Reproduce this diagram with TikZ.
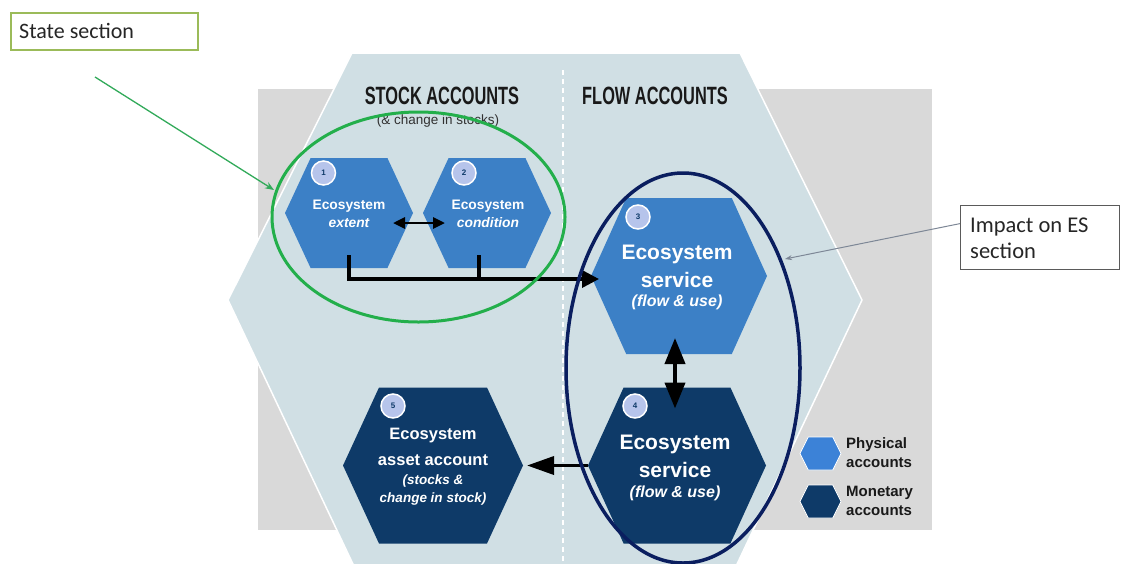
\documentclass[tikz,border=0pt]{standalone}
\usepackage{fontspec}
\setmainfont{Liberation Sans}
\newfontfamily\calib{Carlito}
\newfontfamily\condf[FakeStretch=0.655]{Liberation Sans}
\usetikzlibrary{arrows.meta,calc}
\definecolor{bggrey}{RGB}{217,217,217}
\definecolor{hexbg}{RGB}{208,223,228}
\definecolor{phys}{RGB}{60,128,198}
\definecolor{physl}{RGB}{60,130,215}
\definecolor{mone}{RGB}{14,58,104}
\definecolor{numc}{RGB}{182,196,235}
\definecolor{navyel}{RGB}{10,30,95}
\definecolor{greenel}{RGB}{35,175,75}
\definecolor{greenarr}{RGB}{50,170,90}
\definecolor{boxgreen}{RGB}{155,187,89}
\definecolor{boxgrey}{RGB}{90,90,90}
\definecolor{impactarr}{RGB}{125,135,150}
\definecolor{titlec}{RGB}{25,25,25}
\definecolor{subc}{RGB}{50,50,50}
\definecolor{legtext}{RGB}{25,25,25}
\newcommand\hexfill[3]{\fill[#3] (#1.west) -- ($(#1.north west)!#2!(#1.north east)$) -- ($(#1.north east)!#2!(#1.north west)$) -- (#1.east) -- ($(#1.south east)!#2!(#1.south west)$) -- ($(#1.south west)!#2!(#1.south east)$) -- cycle;}
\tikzset{
  hexbb/.style={inner sep=0pt, outer sep=0pt},
  num/.style={circle, fill=numc, draw=white, line width=1.5pt, inner sep=0pt, minimum size=24pt, text=mone, font=\bfseries\fontsize{8}{8}\selectfont},
  ht/.style={text=white, inner sep=0pt},
  conn/.style={line width=3.5pt, black},
}
\begin{document}
\begin{tikzpicture}[x=1pt,y=-1pt]
\useasboundingbox (0,0) rectangle (1121,563);
\fill[white] (0,0) rectangle (1121,563);
\fill[bggrey] (258,89) rectangle (932,530);
% big hexagon (runs past the lower edge)
\coordinate (bl) at (228,300);
\coordinate (br) at (862,300);
\fill[hexbg, draw=white, line width=1.5pt] (bl) -- (352,53) -- (740,53) -- (br) -- (729.5,580) -- (360.5,580) -- cycle;
\draw[white, line width=1.5pt, dash pattern=on 5pt off 4pt] (563,70) -- (563,563);
% titles
\node[font=\condf\bfseries\fontsize{25}{25}\selectfont, text=titlec, anchor=base, inner sep=0pt] (tstock) at (442,104.5) {STOCK ACCOUNTS};
\node[font=\condf\bfseries\fontsize{25}{25}\selectfont, text=titlec, anchor=base, inner sep=0pt] (tflow) at (655,104.5) {FLOW ACCOUNTS};
\node[font=\fontsize{13.5}{15}\selectfont, text=subc, inner sep=0pt] (tsub) at (438,121) {(\& change in stocks)};
% hexagons
\node[hexbb, minimum width=128pt, minimum height=110pt] (h1) at (349,213) {};
\node[hexbb, minimum width=128pt, minimum height=110pt] (h2) at (487,213) {};
\node[hexbb, minimum width=176pt, minimum height=156pt] (h3) at (679,276) {};
\node[hexbb, minimum width=178pt, minimum height=156pt] (h4) at (677,465.5) {};
\node[hexbb, minimum width=180pt, minimum height=156pt] (h5) at (433,465.5) {};
\hexfill{h1}{0.2}{phys}
\hexfill{h2}{0.2}{phys}
\hexfill{h3}{0.2}{phys}
\hexfill{h4}{0.2}{mone}
\hexfill{h5}{0.2}{mone}
% connectors
\coordinate (jn) at ([xshift=8pt,yshift=-3pt]h3.west);
\draw[conn, -{Triangle[length=17pt,width=17pt]}] ([yshift=13pt]h1.south) |- (jn);
\draw[conn] ([xshift=-8pt,yshift=13pt]h2.south) -- ([xshift=-8pt]h2.south |- jn);
\draw[line width=2.8pt, {Triangle[length=12pt,width=11pt]}-{Triangle[length=12pt,width=11pt]}] ([xshift=-20pt,yshift=-10pt]h1.east) -- ([xshift=22pt,yshift=-10pt]h2.west);
\draw[line width=4pt, {Triangle[length=26pt,width=20pt]}-{Triangle[length=26pt,width=20pt]}] ([xshift=-4pt,yshift=16pt]h3.south) -- ([xshift=-2pt,yshift=-21pt]h4.north);
\draw[line width=3.5pt, -{Triangle[length=27pt,width=18pt]}] (h4.west) -- ([xshift=4pt]h5.east);
% numbers
\node[num] (n1) at (323.5,173) {1};
\node[num] (n2) at (464,173) {2};
\node[num] (n3) at (638,217) {3};
\node[num] (n4) at (635,406) {4};
\node[num] (n5) at (393,406) {5};
% hex texts
\node[ht, font=\bfseries\fontsize{13.8}{16}\selectfont] (h1a) at (349,206) {Ecosystem};
\node[ht, font=\bfseries\itshape\fontsize{13.8}{16}\selectfont] (h1b) at (349,223) {extent};
\node[ht, font=\bfseries\fontsize{13.8}{16}\selectfont] (h2a) at (488,206) {Ecosystem};
\node[ht, font=\bfseries\itshape\fontsize{13.8}{16}\selectfont] (h2b) at (488,223) {condition};
\node[ht, font=\bfseries\fontsize{21}{24}\selectfont] (h3a) at (677,254) {Ecosystem};
\node[ht, font=\bfseries\fontsize{21}{24}\selectfont] (h3b) at (677,280) {service};
\node[ht, font=\bfseries\itshape\fontsize{16}{19}\selectfont] (h3c) at (677,302) {(flow \& use)};
\node[ht, font=\bfseries\fontsize{21}{24}\selectfont] (h4a) at (675,444) {Ecosystem};
\node[ht, font=\bfseries\fontsize{21}{24}\selectfont] (h4b) at (675,470) {service};
\node[ht, font=\bfseries\itshape\fontsize{16}{19}\selectfont] (h4c) at (675,493) {(flow \& use)};
\node[ht, font=\bfseries\fontsize{16.5}{19}\selectfont] (h5a) at (433,436) {Ecosystem};
\node[ht, font=\bfseries\fontsize{16.5}{19}\selectfont] (h5b) at (433,460) {asset account};
\node[ht, font=\bfseries\itshape\fontsize{13.5}{16}\selectfont] (h5c) at (433,481) {(stocks \&};
\node[ht, font=\bfseries\itshape\fontsize{13.5}{16}\selectfont] (h5d) at (433,499) {change in stock)};
% legend
\node[hexbb, minimum width=41pt, minimum height=33pt] (lp) at (820.5,453.5) {};
\node[hexbb, minimum width=41pt, minimum height=33pt] (lm) at (820.5,501.5) {};
\hexfill{lp}{0.2}{physl, draw=white, line width=0.8pt}
\hexfill{lm}{0.2}{mone, draw=white, line width=0.8pt}
\node[anchor=west, inner sep=0pt, text=legtext, font=\bfseries\fontsize{15}{15}\selectfont] (lt1) at (846,445) {Physical};
\node[anchor=west, inner sep=0pt, text=legtext, font=\bfseries\fontsize{15}{15}\selectfont] (lt2) at (846,463) {accounts};
\node[anchor=west, inner sep=0pt, text=legtext, font=\bfseries\fontsize{15}{15}\selectfont] (lt3) at (846,493) {Monetary};
\node[anchor=west, inner sep=0pt, text=legtext, font=\bfseries\fontsize{15}{15}\selectfont] (lt4) at (846,511) {accounts};
% ellipses
\draw[greenel, line width=3pt] (418.5,217) ellipse [x radius=146.5, y radius=105];
\draw[navyel, line width=3.5pt] (683,368) ellipse [x radius=117, y radius=195];
% callouts
\node[draw=boxgreen, line width=1.5pt, fill=white, anchor=north west, inner sep=0pt, minimum width=187pt, minimum height=37pt] (ssbox) at (10,12) {};
\node[anchor=base west, inner sep=0pt, font=\calib\fontsize{22}{26}\selectfont, text=black!85] (sst) at (19,38.5) {State section};
\coordinate (ga) at (95,77);
\coordinate (gb) at (274,190);
\draw[greenarr, line width=1.3pt, -{Stealth[length=9pt,width=7pt]}] (ga) -- (gb);
\node[draw=boxgrey, line width=1.2pt, fill=white, anchor=north west, inner sep=0pt, minimum width=159pt, minimum height=64pt] (imp) at (960,205) {};
\node[anchor=base west, inner sep=0pt, font=\calib\fontsize{22.5}{26}\selectfont, text=black!85] (impt1) at (970,232) {Impact on ES};
\node[anchor=base west, inner sep=0pt, font=\calib\fontsize{22.5}{26}\selectfont, text=black!85] (impt2) at (970,258) {section};
\coordinate (ia) at (785,259);
\draw[impactarr, line width=1pt, -{Stealth[length=7pt,width=5pt]}] ([yshift=14pt]imp.west) -- (ia);
\end{tikzpicture}
\end{document}
